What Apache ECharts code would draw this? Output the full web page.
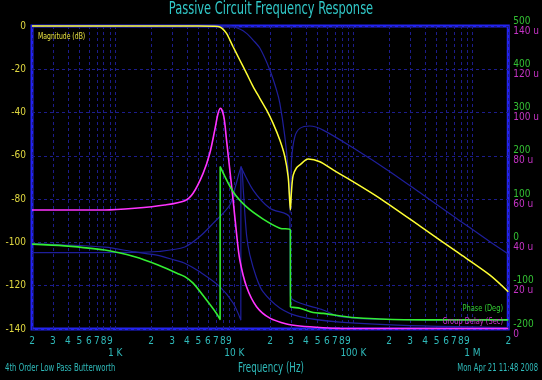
<!DOCTYPE html>
<html><head><meta charset="utf-8">
<script src="https://cdn.jsdelivr.net/npm/echarts@6/dist/echarts.min.js"></script>
<style>html,body{margin:0;padding:0;background:#000;}#c{width:542px;height:380px;}</style>
</head><body><div id="c"></div>
<script>
const FONT = "'Liberation Sans Narrow','DejaVu Sans Condensed','Arial Narrow','Liberation Sans',sans-serif";

// ---- x axis ticks (Hz) ----
const xGridVals = [200,300,400,500,600,700,800,900,1000,2000,3000,4000,5000,6000,7000,8000,9000,10000,
  20000,30000,40000,50000,60000,70000,80000,90000,100000,200000,300000,400000,500000,600000,700000,800000,900000,1000000,2000000];
const xDigitVals = [200,300,400,500,600,700,800,900,2000,3000,4000,5000,6000,7000,8000,9000,
  20000,30000,40000,50000,60000,70000,80000,90000,200000,300000,400000,500000,600000,700000,800000,900000,2000000];
const decadeVals = [1000,10000,100000,1000000];
const decadeLabels = ['1 K','10 K','100 K','1 M'];

// ---- Magnitude (dB) ----
const magFreq = [200,1000,5000,7312,7852,8606,9170,9774,11120,12676,14394,16385,18660,21180,24120,26580,28330,29000,29580,30160,31200,33340,35540,41700,52340,67640,99600,167100,386200,736800,1403000,2000000];
const magDb   = [0,0,0,-0.2,-1.0,-3.4,-6.4,-9.6,-15.7,-21.9,-28.0,-33.4,-38.8,-45.0,-52.7,-60.4,-69.6,-78,-85,-77,-69,-65.5,-64.2,-61.5,-62.7,-66.5,-71.9,-79.6,-93.5,-104.3,-115.1,-122.8];

// ---- Phase (Deg) ----
const phFreq = [200,376.6,816.6,1459,2290,3300,3838,4508,5844,7091,7602,7612,9774,12676,17470,24120,29580,29620,31200,35540,45940,55760,87700,106400,167100,386200,2000000];
const phDeg  = [-4,-8,-17.5,-33,-52,-71,-79,-94,-133,-164,-178,175,117,82,54,33,28.7,-149,-150,-152,-162,-164,-171.6,-174,-177,-179,-179];

// ---- Group Delay (microseconds) ----
const gdFreq = [200,816.6,1459,2607,3838,4508,5470,6228,6860,7312,7660,8166,8606,9170,9774,10440,11120,12676,15380,19885,27480,35540,55760,77040,2000000];
const gdUs   = [55,55,55.8,57.3,59.3,62.7,71.9,81.2,92.0,99.7,102.0,98.1,87.3,73.5,59.6,44.2,32.0,19.5,10.3,5.0,2.3,1.4,0.6,0.3,0.2];

// ---- Reference (dark blue) curves ----
const refMagFreq = [200,9170,11120,12676,14394,16385,19885,22640,24120,26580,28330,29440,30260,32260,35540,43120,55760,106400,202800,386200,736800,1403000,2000000];
const refMagDb   = [0,0,-1.4,-3.4,-6.5,-10.2,-20.3,-29.6,-35.6,-51.1,-66.5,-86.4,-61.9,-51.1,-47.3,-46.2,-48.1,-57.3,-67.3,-78.1,-88.9,-99.7,-105.3];

const refPhFreq = [200,816.6,1459,2290,3164,3838,5131,7554,9774,11346,11360,14394,19885,29280,29600,35540,55760,77040,202800,2000000];
const refPhDeg  = [-2.5,-11,-22,-30,-41,-48,-68,-102,-140,-179,175,121,79,56.5,-125,-140,-156,-171.5,-178,-179];

const refGdFreq = [200,1459,2290,3838,5131,6638,9170,10300,11456,11900,12676,13505,15380,17470,24120,35540,77040,386200,2000000];
const refGdUs   = [35.3,35.4,35.8,37.9,42.7,48.8,57.3,66.5,74.9,64.2,43.4,34.2,23.6,17.1,9.7,5.7,3.2,1.4,0.7];

const zip = (xs, ys) => xs.map((x, i) => [x, ys[i]]);

const TEAL = '#2fbaba';
const GRIDC = '#1c1c8c';
const GHOST = '#1f1f9c';

function digit(v) {
  const p = Math.pow(10, Math.floor(Math.log10(v) + 1e-9));
  return String(Math.round(v / p));
}
function decadeLabel(v) {
  let best = 0, bd = Infinity;
  decadeVals.forEach((d, i) => { const dd = Math.abs(Math.log10(v) - Math.log10(d)); if (dd < bd) { bd = dd; best = i; } });
  return decadeLabels[best];
}
function txt(text, x, y, size, color, align, sx) {
  return {type: 'text', x: x, y: y, scaleX: sx, silent: true, z: 10,
          style: {text: text, fill: color, fontSize: size, fontFamily: FONT, align: align, verticalAlign: 'middle'}};
}

const chart = echarts.init(document.getElementById('c'), null, {renderer: 'canvas'});
const lineBase = {type: 'line', showSymbol: false, symbol: 'none', clip: false, xAxisIndex: 0, smooth: 0.3};

chart.setOption({
  backgroundColor: '#000',
  animation: false,
  textStyle: {fontFamily: FONT},
  graphic: [
    txt('Passive Circuit Frequency Response', 271, 10, 17, '#31c9c9', 'center', 0.75),
    txt('4th Order Low Pass Butterworth', 5, 368, 10, TEAL, 'left', 0.77),
    txt('Frequency (Hz)', 271, 368, 13.5, TEAL, 'center', 0.72),
    txt('Mon Apr 21 11:48 2008', 538, 368, 10, TEAL, 'right', 0.76),
    txt('Magnitude (dB)', 38, 37, 8.5, '#e6e040', 'left', 0.8),
    txt('Phase (Deg)', 503, 309, 9, '#33d033', 'right', 0.82),
    txt('Group Delay (Sec)', 503, 321.5, 9, '#d033d0', 'right', 0.82)
  ],
  grid: {left: 32, right: 33, top: 26, bottom: 51, show: true, borderColor: '#2323f0', borderWidth: 3, backgroundColor: 'transparent'},
  xAxis: [
    {type: 'log', logBase: 10, min: 200, max: 2000000, position: 'bottom',
     axisLine: {show: false, onZero: false}, axisTick: {show: false, customValues: xGridVals},
     splitLine: {show: true, lineStyle: {color: GRIDC, type: [3, 3], width: 1}},
     axisLabel: {customValues: xDigitVals, formatter: digit, color: TEAL, fontSize: 10, margin: 7, fontFamily: FONT, showMinLabel: true, showMaxLabel: true}},
    {type: 'log', logBase: 10, min: 200, max: 2000000, position: 'bottom', offset: 12,
     axisLine: {show: false, onZero: false}, axisTick: {show: false, customValues: decadeVals}, splitLine: {show: false},
     axisLabel: {customValues: decadeVals, formatter: decadeLabel, color: TEAL, fontSize: 10, margin: 7, fontFamily: FONT}}
  ],
  yAxis: [
    {type: 'value', min: -140, max: 0, interval: 20, position: 'left',
     axisLine: {show: false, onZero: false}, axisTick: {show: false},
     axisLabel: {color: '#e0d840', fontSize: 10, margin: 6, fontFamily: FONT},
     splitLine: {show: true, lineStyle: {color: GRIDC, type: [3, 3], width: 1}}},
    {type: 'value', min: -200, max: 500, interval: 100, position: 'right',
     axisLine: {show: false, onZero: false}, axisTick: {show: false}, splitLine: {show: false},
     axisLabel: {color: '#33c033', fontSize: 10, margin: 5, verticalAlign: 'bottom', fontFamily: FONT}},
    {type: 'value', min: 0, max: 140, interval: 20, position: 'right',
     axisLine: {show: false, onZero: false}, axisTick: {show: false}, splitLine: {show: false},
     axisLabel: {color: '#c533c5', fontSize: 10, margin: 5, verticalAlign: 'top', fontFamily: FONT,
                 formatter: v => v === 0 ? '0' : v + ' u'}}
  ],
  series: [
    Object.assign({}, lineBase, {name: 'refMag', yAxisIndex: 0, data: zip(refMagFreq, refMagDb), lineStyle: {color: GHOST, width: 1.2}, itemStyle: {color: GHOST}, z: 2}),
    Object.assign({}, lineBase, {name: 'refPh', yAxisIndex: 1, data: zip(refPhFreq, refPhDeg), lineStyle: {color: GHOST, width: 1.2}, itemStyle: {color: GHOST}, z: 2}),
    Object.assign({}, lineBase, {name: 'refGd', yAxisIndex: 2, data: zip(refGdFreq, refGdUs), lineStyle: {color: GHOST, width: 1.2}, itemStyle: {color: GHOST}, z: 2}),
    Object.assign({}, lineBase, {name: 'Group Delay (Sec)', yAxisIndex: 2, data: zip(gdFreq, gdUs), lineStyle: {color: '#ff33ff', width: 1.6}, itemStyle: {color: '#ff33ff'}, z: 3}),
    Object.assign({}, lineBase, {name: 'Phase (Deg)', yAxisIndex: 1, data: zip(phFreq, phDeg), lineStyle: {color: '#33ee33', width: 1.6}, itemStyle: {color: '#33ee33'}, z: 4}),
    Object.assign({}, lineBase, {name: 'Magnitude (dB)', yAxisIndex: 0, data: zip(magFreq, magDb), lineStyle: {color: '#ffff33', width: 1.5}, itemStyle: {color: '#ffff33'}, z: 5})
  ]
});
</script></body></html>
